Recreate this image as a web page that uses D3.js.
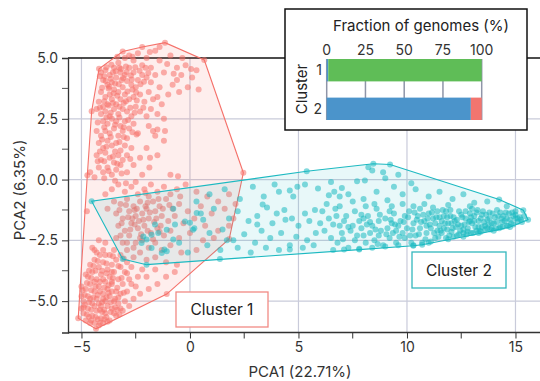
<!DOCTYPE html>
<html>
<head>
<meta charset="utf-8">
<script src="https://cdn.jsdelivr.net/npm/d3@7"></script>
<style>
  html, body { margin: 0; padding: 0; background: #fff; }
  svg { display: block; font-family: "Inter", "Roboto", sans-serif; }
</style>
</head>
<body>
<div id="chart"></div>
<script>
// PCA coordinates (PCA1, PCA2)
const cluster1Points = [
  [-4.19,4.56],[-3.1,5.27],[-1.15,5.63],[0.66,4.92],[-4.53,2.81],[2.46,0.28],[1.81,-2.44],[-1.07,-4.71],[-4.33,-6.14],[-5.15,-5.7],
  [-4.1,4.4],[-3.9,4.5],[-3.7,4.3],[-3.5,4.6],[-3.3,4.8],[-3.0,5.0],[-2.8,5.1],[-2.6,4.9],[-2.4,5.2],[-2.2,4.7],[-2.0,5.0],[-1.8,4.6],[-1.6,5.3],[-1.4,4.9],[-1.2,4.4],[-0.9,5.1],[-0.6,4.6],[-0.4,4.3],[-0.2,4.7],[0.1,4.2],[0.3,4.5],[-0.1,3.8],[0.4,3.7],[-0.5,3.6],
  [-4.0,4.1],[-3.8,3.9],[-3.6,4.0],[-3.4,4.2],[-3.2,4.4],[-3.0,4.3],[-2.8,4.6],[-2.6,4.4],[-2.4,4.1],[-2.2,4.3],[-2.0,4.2],[-1.8,4.0],[-1.6,4.3],[-1.4,3.8],[-1.9,3.6],[-2.5,3.8],[-2.7,3.9],[-3.1,3.8],[-3.3,3.6],[-3.5,3.7],[-3.7,3.5],[-3.9,3.4],[-4.1,3.6],[-4.2,3.2],[-4.0,3.0],[-3.8,3.1],[-3.6,3.3],[-3.4,3.1],[-3.2,3.3],[-3.0,3.5],[-2.8,3.3],[-2.6,3.4],[-2.3,3.5],[-2.1,3.2],[-1.7,3.3],[-1.5,3.4],[-1.3,3.1],[-1.0,3.5],[-0.8,3.9],[-0.6,4.1],
  [-3.95,4.25],[-3.65,4.15],[-3.45,3.95],[-3.15,4.1],[-2.9,4.05],[-3.25,4.6],[-2.95,4.65],[-3.55,4.4],[-3.75,3.75],[-3.05,3.15],[-2.65,3.7],[-3.35,3.45],
  [-3.85,4.62],[-3.62,4.72],[-3.42,4.45],[-3.18,4.55],[-2.92,4.42],[-2.72,4.28],[-2.52,4.62],[-2.32,4.48],[-2.12,4.02],[-1.92,4.38],[-3.88,4.05],[-3.72,3.82],[-3.52,3.55],[-3.28,3.92],[-3.08,4.18],[-2.88,3.62],[-2.68,4.12],[-2.48,3.58],[-2.28,3.92],[-4.05,3.78],[-3.95,3.22],[-3.75,3.05],[-3.55,3.15],[-3.25,3.0],[-2.95,3.22],[-2.75,2.95],[-2.45,3.25],[-2.15,2.95],[-4.15,2.95],[-3.65,2.75],[-3.25,2.55],[-2.85,2.45],[-2.55,2.75],[-3.85,2.55],[-3.45,2.25],[-3.05,2.15],[-2.65,1.95],[-3.95,2.15],[-4.25,2.35],[-4.15,4.25],[-3.35,5.05],[-2.65,5.05],[-2.05,4.6],[-1.85,5.25],[-1.05,4.75],[-0.75,4.35],[-0.35,5.0],[0.05,4.55],[-2.2,5.45],[-1.4,5.45],
  [-4.3,2.9],[-4.1,2.7],[-3.9,2.8],[-3.7,2.6],[-3.5,2.9],[-3.3,2.7],[-3.1,2.9],[-2.9,2.8],[-2.7,2.6],[-2.5,3.0],[-2.3,2.8],[-2.0,2.6],[-1.8,2.9],[-1.5,2.7],[-1.2,2.5],[-4.0,2.4],[-3.8,2.3],[-3.6,2.5],[-3.4,2.4],[-3.2,2.2],[-3.0,2.4],[-2.8,2.1],[-2.6,2.3],[-1.9,2.2],[-1.6,1.8],[-1.7,2.0],
  [-4.3,2.0],[-4.1,1.8],[-3.9,2.0],[-3.7,1.9],[-3.5,2.1],[-3.3,1.8],[-3.1,2.0],[-2.9,1.7],[-4.2,1.5],[-4.0,1.3],[-3.8,1.6],[-3.6,1.4],[-3.4,1.5],[-3.2,1.2],[-3.0,1.4],[-2.7,1.3],[-4.3,1.0],[-4.1,0.8],[-3.9,1.1],[-3.7,0.9],[-3.5,0.7],[-3.3,1.0],[-3.1,0.8],[-2.9,1.0],[-4.2,0.5],[-4.0,0.3],[-3.8,0.5],[-3.6,0.2],[-3.4,0.4],[-3.2,0.6],[-2.9,0.3],[-2.6,0.6],[-2.3,0.9],[-2.0,1.3],[-1.5,1.0],[-0.9,0.2],[-2.2,0.2],[-4.4,0.1],[-1.2,1.6],[-2.4,1.9],
  [-4.05,1.65],[-3.85,1.35],[-3.65,1.75],[-3.45,1.15],[-3.25,1.55],[-3.05,1.75],[-4.15,1.15],[-3.95,0.75],[-3.75,0.35],[-3.55,0.95],[-3.35,0.65],[-3.15,0.25],[-2.75,0.85],[-4.25,0.75],[-3.95,0.05],[-3.45,-0.05],[-2.95,-0.15],
  [-1.84,0.9],[-1.87,0.5],[-0.55,0.14],[-1.5,2.06],[-1.15,2.0],[-2.46,1.85],[-4.73,0.18],[-4.6,0.3],[-4.75,-1.3],
  [-3.6,-0.4],[-3.3,-0.2],[-3.0,-0.5],[-2.7,-0.3],[-2.4,-0.6],[-2.1,-0.4],[-1.8,-0.2],[-1.5,-0.5],[-1.2,-0.3],[-0.9,-0.6],[-0.6,-0.4],[-0.2,-0.2],[0.3,-0.5],[0.8,-0.7],[1.3,-0.9],[1.8,-0.6],[2.1,-1.0],[-3.5,-0.9],[-3.2,-1.0],[-2.9,-0.8],[-2.6,-1.1],[-2.3,-0.9],[-2.0,-1.2],[-1.7,-0.9],[-1.4,-1.1],[-1.1,-0.8],[-0.8,-1.2],[-0.5,-1.0],[-0.1,-1.3],[0.5,-1.1],[1.0,-1.4],[1.6,-1.2],[2.0,-1.6],
  [-3.4,-1.4],[-3.1,-1.6],[-2.8,-1.3],[-2.5,-1.5],[-2.2,-1.4],[-1.9,-1.6],[-1.6,-1.3],[-1.3,-1.5],[-1.0,-1.7],[-0.7,-1.5],[-0.3,-1.8],[0.2,-1.6],[0.7,-1.9],[1.3,-2.1],[1.8,-1.9],
  [-3.3,-1.9],[-3.0,-2.1],[-2.7,-1.8],[-2.4,-2.0],[-2.1,-1.9],[-1.8,-2.2],[-1.5,-2.0],[-1.2,-2.3],[-0.9,-2.1],[-0.5,-2.4],[0.0,-2.2],[0.6,-2.5],[1.1,-2.4],
  [-2.85,-1.55],[-2.35,-1.7],[-2.05,-1.1],[-1.65,-1.75],[-2.55,-1.25],[-1.35,-1.9],[-2.25,-2.25],[-1.95,-0.95],
  [-3.25,-1.25],[-2.95,-1.05],[-2.65,-1.6],[-2.45,-1.2],[-2.15,-1.65],[-1.85,-1.35],[-1.55,-1.6],[-1.25,-1.2],[-3.15,-1.8],[-2.75,-2.05],[-2.55,-1.85],[-2.3,-2.4],[-1.95,-2.1],[-1.7,-2.45],[-1.4,-2.15],[-3.2,-2.3],[-2.9,-2.6],[-2.6,-2.8],[-2.05,-0.55],[-1.45,-0.8],[-0.95,-1.05],[-0.45,-0.7],
  [-3.4,-2.4],[-3.1,-2.6],[-2.8,-2.3],[-2.5,-2.6],[-2.2,-2.5],[-1.9,-2.8],[-1.6,-2.6],[-1.3,-2.9],[-0.9,-2.7],[-0.4,-3.0],[0.3,-2.9],[-3.5,-2.9],[-3.2,-3.1],[-2.9,-2.9],[-2.6,-3.2],[-2.3,-3.0],[-2.0,-3.3],[-1.6,-3.2],[-1.1,-3.4],[-0.6,-3.5],
  [-2.5,-0.1],[-1.9,-0.7],[-3.8,-1.2],[-3.9,-0.6],
  [-2.3,-4.7],[-1.9,-4.5],[-1.5,-4.3],[-1.1,-4.0],[-0.7,-3.8],[-2.7,-4.3],[-2.0,-4.0],[-1.6,-3.7],
  [-4.6,-5.9],[-4.0,-5.9],[-3.7,-5.8],[-3.4,-5.6],[-3.1,-5.4],[-2.8,-5.2],[-4.9,-5.5],[-4.7,-5.3],[-4.5,-5.6],[-4.3,-5.4],[-4.1,-5.7],[-3.9,-5.5],[-3.6,-5.3],[-3.3,-5.1],[-3.0,-5.0],[-2.6,-4.9],[-4.9,-5.0],[-4.7,-4.8],[-4.5,-5.1],[-4.3,-4.9],[-4.1,-5.2],[-3.9,-5.0],[-3.7,-4.8],[-3.5,-5.0],[-3.2,-4.7],[-2.9,-4.6],[-2.5,-4.4],
  [-4.8,-4.5],[-4.6,-4.3],[-4.4,-4.6],[-4.2,-4.4],[-4.0,-4.7],[-3.8,-4.5],[-3.6,-4.3],[-3.4,-4.6],[-3.1,-4.3],[-2.8,-4.1],[-4.7,-4.0],[-4.5,-3.8],[-4.3,-4.1],[-4.1,-3.9],[-3.9,-4.2],[-3.7,-4.0],[-3.5,-3.8],[-3.3,-4.1],[-3.0,-3.8],[-2.7,-3.6],[-4.6,-3.5],[-4.4,-3.3],[-4.2,-3.6],[-4.0,-3.4],[-3.8,-3.7],[-3.6,-3.5],[-3.4,-3.3],[-3.2,-3.6],[-2.9,-3.4],[-4.3,-3.0],[-4.0,-2.9],[-3.7,-3.1],[-3.9,-2.6],[-4.2,-2.5],[-4.5,-2.8],
  [-5.0,-4.8],[-5.0,-5.3],[-4.8,-5.8],[-4.4,-5.9],[-4.2,-6.0],[-3.8,-5.85],[-4.6,-4.9],[-4.2,-5.1],[-3.8,-5.2],[-4.4,-5.2],[-4.0,-4.9],[-3.6,-4.6],[-4.4,-4.2],[-4.0,-4.1],[-3.6,-4.2],[-4.8,-3.9],[-3.2,-5.3],[-3.5,-5.5],[-2.4,-4.0],[-2.2,-3.7],[-5.0,-4.4],
  [-4.65,-5.65],[-4.25,-5.75],[-3.95,-5.35],[-4.55,-4.55],[-4.15,-4.6],[-3.75,-4.35],[-4.35,-3.75],[-3.85,-3.85],[-3.35,-4.45],[-4.85,-5.15],[-3.45,-4.9],[-4.05,-5.45],
  [-4.75,-5.55],[-4.55,-5.35],[-4.35,-5.65],[-4.15,-5.35],[-3.85,-5.65],[-3.65,-5.45],[-3.45,-5.25],[-3.25,-5.55],[-4.85,-4.75],[-4.65,-5.05],[-4.45,-4.85],[-4.25,-4.75],[-4.05,-5.05],[-3.85,-4.85],[-3.65,-5.05],[-3.3,-4.85],[-3.05,-4.65],[-4.75,-4.25],[-4.55,-4.05],[-4.35,-4.4],[-4.15,-4.2],[-3.95,-4.45],[-3.75,-4.65],[-3.55,-4.05],[-3.15,-4.05],[-2.9,-3.85],[-4.65,-3.75],[-4.45,-3.55],[-4.25,-3.35],[-4.05,-3.75],[-3.85,-3.45],[-3.6,-3.8],[-3.3,-3.55],[-3.05,-3.25],[-4.4,-2.9],[-4.15,-3.1],[-3.9,-3.1],[-3.55,-3.15],[-4.9,-5.25],[-4.95,-4.55],[-4.55,-5.8],[-4.15,-5.9],[-3.95,-5.75],[-3.35,-5.35]
];

const cluster2Points = [
  [-4.53,-0.89],[-3.1,-3.27],[-2.0,-3.5],[1.38,-3.27],[10.29,-2.72],[14.75,-1.95],[15.58,-1.65],[15.36,-1.26],[14.25,-0.82],[9.22,0.62],[8.45,0.65],[5.38,0.34],
  [-2.15,-2.34],[-1.77,-2.27],[-1.46,-2.2],[-1.61,-1.85],[-1.07,-2.06],[-0.69,-1.85],[-1.07,-2.95],[-1.3,-3.02],[-0.77,-1.2],[-0.23,-1.72],[-2.0,-2.47],[-2.23,-2.61],[0.0,-1.78],[0.31,-1.37],[0.61,-1.65],[0.14,-2.06],[-1.18,-2.88],[-1.77,-2.81],[-0.77,-2.47],
  [0.3,-0.9],[0.9,-0.6],[1.6,-0.4],[2.3,-0.8],[2.9,-0.3],[3.4,-0.7],[3.9,-0.2],[4.1,-0.5],[4.6,-0.45],[4.95,-0.3],[5.3,-0.2],[5.9,-0.37],[4.76,-0.7],
  [0.5,-1.4],[1.1,-1.2],[1.8,-1.6],[2.2,-1.3],[2.7,-1.7],[3.1,-1.5],[3.35,-1.03],[3.55,-1.15],[4.0,-1.4],[4.35,-1.25],[4.7,-1.6],[5.3,-1.4],[5.76,-1.25],[3.1,-1.85],[3.8,-1.8],[4.4,-1.65],[5.0,-1.9],[5.5,-1.7],
  [0.2,-2.0],[0.9,-2.2],[1.5,-2.05],[2.0,-2.5],[2.5,-2.25],[3.0,-2.6],[3.3,-2.1],[3.7,-2.4],[4.2,-2.2],[4.6,-2.7],[4.9,-2.35],[5.4,-2.5],[5.8,-2.2],[0.8,-2.7],[1.4,-2.9],[2.2,-2.8],[2.8,-3.0],[3.5,-2.8],[4.1,-2.9],[4.6,-2.88],[5.2,-2.8],[5.7,-2.7],[-0.5,-2.6],[-0.1,-3.0],[1.7,-2.5],
  [6.5,-0.1],[7.0,-0.35],[7.3,-0.6],[7.7,-0.07],[8.06,-0.04],[8.22,0.51],[8.9,0.3],[9.0,0.05],[8.4,0.37],[6.4,-0.65],[6.65,-0.5],[6.9,-0.7],[8.6,-0.5],[9.4,-0.3],[9.8,-0.6],[8.0,-0.8],[9.1,-0.85],[10.2,-0.15],[9.6,0.2],
  [6.1,-1.3],[6.4,-1.6],[6.7,-1.2],[6.9,-1.9],[7.2,-1.5],[7.4,-2.1],[7.6,-1.3],[7.8,-1.7],[8.0,-2.3],[8.2,-1.5],[8.4,-1.9],[8.6,-1.2],[8.8,-2.1],[9.0,-1.6],[9.2,-2.4],[9.4,-1.4],[9.6,-1.9],[9.8,-2.2],[9.9,-1.5],
  [6.2,-2.1],[6.5,-2.4],[6.8,-2.6],[7.0,-2.2],[7.3,-2.8],[7.6,-2.5],[7.9,-2.0],[8.1,-2.6],[8.3,-2.2],[8.5,-2.5],[8.7,-1.7],[8.9,-2.7],[9.1,-2.0],[9.3,-1.8],[9.5,-2.6],[9.7,-1.7],[10.0,-2.0],
  [6.3,-1.0],[6.9,-1.1],[7.5,-0.9],[8.1,-1.1],[8.5,-1.0],[9.3,-1.1],[9.8,-1.0],[6.6,-2.9],[7.1,-2.88],[7.8,-2.85],[8.4,-2.8],[9.0,-2.75],[9.6,-2.7],
  [7.1,-1.7],[7.5,-1.9],[8.0,-1.6],[8.3,-1.75],[8.7,-2.3],[9.2,-1.3],[9.5,-2.1],[9.9,-2.4],[6.0,-1.8],[6.6,-1.85],[7.7,-2.3],
  [10.4,-0.4],[11.0,-0.7],[11.5,-0.5],[12.1,-0.8],[12.6,-0.6],[13.1,-0.95],[13.7,-0.9],[10.8,-1.0],[11.9,-1.05],[12.9,-1.1],[14.6,-1.1],[15.0,-1.3],[15.3,-1.75],[14.9,-1.5],
  [10.1,-1.3],[10.3,-1.8],[10.4,-2.3],[10.5,-1.5],[10.6,-2.0],[10.7,-2.6],[10.8,-1.7],[10.9,-2.2],[11.0,-1.4],[10.2,-2.6],[10.6,-1.2],[10.9,-1.9],
  [11.1,-2.0],[11.2,-1.6],[11.3,-2.4],[11.4,-1.3],[11.5,-1.9],[11.6,-2.2],[11.7,-1.5],[11.8,-2.4],[11.9,-1.8],[11.1,-2.55],[11.4,-2.1],[11.6,-1.7],[11.8,-1.3],[11.3,-1.8],[11.7,-2.0],[11.95,-2.3],
  [12.0,-1.5],[12.1,-2.0],[12.2,-1.7],[12.3,-2.3],[12.4,-1.3],[12.5,-1.9],[12.6,-2.2],[12.7,-1.6],[12.8,-2.0],[12.9,-1.4],[12.15,-2.35],[12.35,-1.85],[12.55,-1.55],[12.75,-2.25],[12.85,-1.75],[12.45,-2.1],[12.05,-1.8],[12.95,-2.2],
  [13.0,-1.8],[13.1,-1.5],[13.2,-2.1],[13.3,-1.7],[13.4,-2.15],[13.5,-1.3],[13.6,-1.9],[13.7,-2.0],[13.8,-1.6],[13.9,-2.0],[13.05,-2.2],[13.25,-1.25],[13.45,-1.95],[13.65,-1.45],[13.85,-2.05],[13.35,-2.1],[13.55,-1.75],[13.95,-1.4],
  [14.0,-1.8],[14.1,-2.0],[14.2,-1.5],[14.3,-1.95],[14.4,-1.95],[14.5,-1.7],[14.6,-1.9],[14.7,-1.4],[14.8,-1.8],[14.9,-1.85],[15.0,-1.6],[15.1,-1.75],[15.2,-1.55],[14.15,-1.25],[14.35,-1.6],[14.55,-1.35],[14.25,-2.0],[14.65,-1.9],
  [10.25,-2.05],[10.75,-1.45],[11.25,-2.2],[11.5,-1.55],[12.25,-1.95],[12.65,-1.85],[13.15,-1.95],[13.75,-1.85],[12.9,-1.7],[11.85,-2.05],[10.45,-1.65],[13.4,-1.6],
  [10.3,-2.7],[11.0,-2.6],[11.9,-2.45],[12.6,-2.35],[13.3,-2.2],[14.0,-2.1],[10.7,-2.68],[7.8,-2.88],
  [8.15,-1.85],[8.55,-2.05],[8.75,-1.45],[9.05,-2.25],[9.25,-1.65],[9.45,-1.85],[9.65,-2.35],[9.85,-1.75],[10.05,-1.55],[10.15,-2.3],[10.35,-1.35],[10.55,-2.25],[10.65,-1.75],[10.85,-2.45],[10.95,-1.6],[11.05,-1.85],[11.15,-1.35],[11.35,-1.55],[11.45,-2.35],[11.55,-2.1],[11.65,-1.25],[11.75,-1.8],[11.85,-1.55],[12.05,-2.15],[12.15,-1.55],[12.3,-1.65],[12.4,-2.25],[12.5,-1.45],[12.6,-2.05],[12.7,-1.3],[12.8,-2.15],[12.95,-1.55],[13.1,-1.7],[13.2,-1.35],[13.3,-1.95],[13.45,-1.45],[13.6,-2.05],[13.7,-1.65],[13.8,-1.35],[13.9,-1.8],[14.05,-1.55],[14.15,-1.75],[14.3,-1.35],[14.4,-1.75],[14.45,-1.5],[14.6,-1.6],[14.75,-1.65],[14.85,-1.35],[15.0,-1.45],[15.1,-1.6],[15.25,-1.65],[15.4,-1.5],[12.0,-1.25],[11.2,-1.15],[10.3,-1.1],[13.0,-1.2],[7.3,-1.95],[7.05,-2.45],[6.75,-1.5],[7.9,-1.45],[8.65,-2.65],[9.35,-2.2]
];

// inset: fraction of genomes per cluster (%)
const insetClusters = ["1", "2"];
const insetShareBlue = [1, 93];
const insetShareGreen = [99, 0];
const insetShareRed = [0, 7];
const insetTicks = [0, 25, 50, 75, 100];

const xTicks = [-5, 0, 5, 10, 15];
const xMinorTicks = [-2.5, 2.5, 7.5, 12.5];
const yTicks = [-5, -2.5, 0, 2.5, 5];
const yMinorTicks = [-3.75, -1.25, 1.25, 3.75];
const clusterNames = ["Cluster 1", "Cluster 2"];

const W = 540, H = 381;
const RED = "#f5716a", CYAN = "#1cb9c1";

const svg = d3.select("#chart").append("svg")
  .attr("width", W).attr("height", H);

const x = d3.scaleLinear().domain([-5.62, 16.13]).range([68, 540]);
const y = d3.scaleLinear().domain([-6.29, 5]).range([332.5, 58]);

// grid
svg.append("g").selectAll("line").data(xTicks).join("line")
  .attr("x1", d => x(d)).attr("x2", d => x(d))
  .attr("y1", y(5)).attr("y2", y(-6.29))
  .attr("stroke", "#c9cbda").attr("stroke-width", 1.2);
svg.append("g").selectAll("line").data(yTicks.filter(d => d < 5)).join("line")
  .attr("x1", x(-5.62)).attr("x2", W)
  .attr("y1", d => y(d)).attr("y2", d => y(d))
  .attr("stroke", "#c9cbda").attr("stroke-width", 1.2);
svg.append("line")
  .attr("x1", x(-5.62)).attr("x2", W)
  .attr("y1", y(5)).attr("y2", y(5))
  .attr("stroke", "#111").attr("stroke-width", 1.3);

// hulls and points
function drawCluster(points, color, fillOpacity) {
  const pix = points.map(p => [x(p[0]), y(p[1])]);
  const hull = d3.polygonHull(pix);
  svg.append("path")
    .attr("d", "M" + hull.join("L") + "Z")
    .attr("fill", color).attr("fill-opacity", fillOpacity)
    .attr("stroke", color).attr("stroke-width", 1.1);
  svg.append("g").selectAll("circle").data(points).join("circle")
    .attr("cx", d => x(d[0])).attr("cy", d => y(d[1]))
    .attr("r", 3)
    .attr("fill", color).attr("fill-opacity", 0.55);
}
drawCluster(cluster1Points, RED, 0.12);
drawCluster(cluster2Points, CYAN, 0.1);

// axes
const xAxis = svg.append("g").attr("transform", `translate(0,${y(-6.29)})`);
xAxis.call(d3.axisBottom(x).tickValues(xTicks).tickSize(6).tickPadding(4).tickFormat(d3.format("d")));
xAxis.append("g").selectAll("line").data(xMinorTicks).join("line")
  .attr("x1", d => x(d)).attr("x2", d => x(d)).attr("y1", 0).attr("y2", 6)
  .attr("stroke", "#333");

const yAxis = svg.append("g").attr("transform", `translate(${x(-5.62)},0)`);
yAxis.call(d3.axisLeft(y).tickValues(yTicks).tickSize(6).tickPadding(4).tickFormat(d3.format(".1f")));
yAxis.append("g").selectAll("line").data(yMinorTicks).join("line")
  .attr("y1", d => y(d)).attr("y2", d => y(d)).attr("x1", 0).attr("x2", -6)
  .attr("stroke", "#555");

[xAxis, yAxis].forEach(a => {
  a.select(".domain").attr("stroke", "#333").attr("stroke-width", 1.3);
  a.selectAll(".tick line").attr("stroke", "#333");
  a.selectAll(".tick text").attr("fill", "#333").attr("font-size", 14)
    .attr("font-family", "Inter, Roboto, sans-serif");
});
xAxis.select(".domain").attr("d", `M${x(-5.62)},0H${W}`);

svg.append("text").attr("x", 300).attr("y", 377)
  .attr("text-anchor", "middle").attr("font-size", 15).attr("fill", "#333")
  .text("PCA1 (22.71%)");
svg.append("text").attr("transform", `translate(25,190) rotate(-90)`)
  .attr("text-anchor", "middle").attr("font-size", 15).attr("fill", "#333")
  .text("PCA2 (6.35%)");

// cluster labels
const labelBoxes = [
  { x: 176, y: 292, w: 92, h: 35, color: "#f28a84" },
  { x: 412, y: 252, w: 94, h: 36, color: "#34b7be" }
];
labelBoxes.forEach((b, i) => {
  svg.append("rect").attr("x", b.x).attr("y", b.y).attr("width", b.w).attr("height", b.h)
    .attr("fill", "#fff").attr("stroke", b.color).attr("stroke-width", 1.3);
  svg.append("text").attr("x", b.x + b.w / 2).attr("y", b.y + b.h / 2 + 5.5)
    .attr("text-anchor", "middle").attr("font-size", 15.5).attr("fill", "#222")
    .text(clusterNames[i]);
});

// inset
const inset = svg.append("g");
inset.append("rect").attr("x", 285).attr("y", 9).attr("width", 242).attr("height", 121)
  .attr("fill", "#fff").attr("stroke", "#111").attr("stroke-width", 1.5);
inset.append("text").attr("x", 421).attr("y", 31)
  .attr("text-anchor", "middle").attr("font-size", 15).attr("fill", "#222")
  .text("Fraction of genomes (%)");

const ix = d3.scaleLinear().domain([0, 100]).range([326.7, 481.7]);
const iy = d3.scaleBand().domain(insetClusters).range([59, 120]).paddingInner(0.42).paddingOuter(0);

inset.append("g").selectAll("line").data(insetTicks).join("line")
  .attr("x1", d => ix(d)).attr("x2", d => ix(d))
  .attr("y1", 59).attr("y2", 120)
  .attr("stroke", "#8f95a8").attr("stroke-width", 1.5);
inset.append("g").selectAll("text").data(insetTicks).join("text")
  .attr("x", d => ix(d)).attr("y", 55)
  .attr("text-anchor", "middle").attr("font-size", 14).attr("fill", "#333")
  .text(d => d);

const segments = insetClusters.map((c, i) => [
  { c, start: 0, end: insetShareBlue[i], color: "#4b94cb" },
  { c, start: insetShareBlue[i], end: insetShareBlue[i] + insetShareGreen[i], color: "#5fbd57" },
  { c, start: insetShareBlue[i] + insetShareGreen[i], end: insetShareBlue[i] + insetShareGreen[i] + insetShareRed[i], color: "#f2756f" }
]).flat().filter(s => s.end > s.start);

inset.append("g").selectAll("rect").data(segments).join("rect")
  .attr("x", d => ix(d.start)).attr("width", d => ix(d.end) - ix(d.start))
  .attr("y", d => iy(d.c)).attr("height", iy.bandwidth())
  .attr("fill", d => d.color);

inset.append("g").selectAll("text").data(insetClusters).join("text")
  .attr("x", 322).attr("y", d => iy(d) + iy.bandwidth() / 2 + 5)
  .attr("text-anchor", "end").attr("font-size", 14).attr("fill", "#333")
  .text(d => d);
inset.append("text").attr("transform", "translate(307,89) rotate(-90)")
  .attr("text-anchor", "middle").attr("font-size", 15).attr("fill", "#222")
  .text("Cluster");
</script>
</body>
</html>
